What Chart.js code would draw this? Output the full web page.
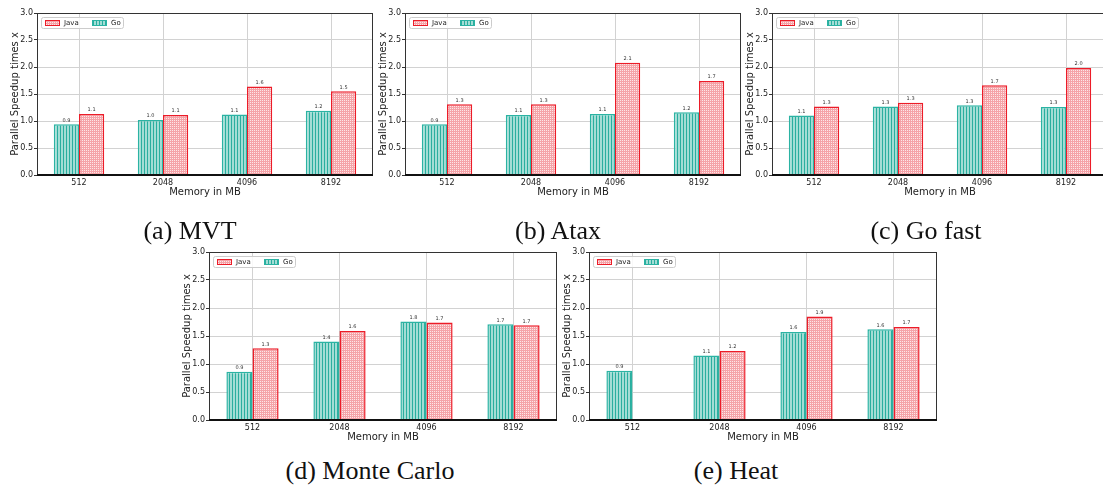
<!DOCTYPE html>
<html>
<head>
<meta charset="utf-8">
<script src="https://cdn.jsdelivr.net/npm/chart.js@4.4.1/dist/chart.umd.min.js"></script>
<style>
  html, body { margin: 0; padding: 0; background: #fff; overflow: hidden; }
  body { width: 1103px; height: 488px; position: relative; }
  canvas { position: absolute; }
  .cap { position: absolute; font-family: "Liberation Serif", serif; font-size: 26px; color: #111;
         transform: translate(-50%, -50%); white-space: nowrap; }
</style>
</head>
<body>

<script>
var memory = ['512', '2048', '4096', '8192'];

// MVT
var mvtGo   = [0.94, 1.02, 1.12, 1.19];
var mvtJava = [1.13, 1.11, 1.64, 1.55];
var mvtGoTag   = ['0.9', '1.0', '1.1', '1.2'];
var mvtJavaTag = ['1.1', '1.1', '1.6', '1.5'];
// Atax
var ataxGo   = [0.94, 1.11, 1.13, 1.16];
var ataxJava = [1.31, 1.31, 2.08, 1.74];
var ataxGoTag   = ['0.9', '1.1', '1.1', '1.2'];
var ataxJavaTag = ['1.3', '1.3', '2.1', '1.7'];
// Go fast
var fastGo   = [1.10, 1.27, 1.29, 1.26];
var fastJava = [1.27, 1.34, 1.66, 1.98];
var fastGoTag   = ['1.1', '1.3', '1.3', '1.3'];
var fastJavaTag = ['1.3', '1.3', '1.7', '2.0'];
// Monte Carlo
var monteGo   = [0.86, 1.40, 1.76, 1.71];
var monteJava = [1.28, 1.59, 1.74, 1.69];
var monteGoTag   = ['0.9', '1.4', '1.8', '1.7'];
var monteJavaTag = ['1.3', '1.6', '1.7', '1.7'];
// Heat
var heatGo   = [0.88, 1.15, 1.57, 1.62];
var heatJava = [null, 1.23, 1.85, 1.66];
var heatGoTag   = ['0.9', '1.1', '1.6', '1.6'];
var heatJavaTag = [null, '1.2', '1.9', '1.7'];

var yTicks = [0, 0.5, 1.0, 1.5, 2.0, 2.5, 3.0];

function makePattern(kind) {
	var c = document.createElement('canvas');
	var g = c.getContext('2d');
	if (kind == 'go') {
		c.width = 3; c.height = 3;
		g.fillStyle = '#a3ddd5';
		g.fillRect(0, 0, 3, 3);
		g.fillStyle = '#2aae9f';
		g.fillRect(0, 0, 1, 3);
	} else {
		c.width = 2; c.height = 2;
		g.fillStyle = '#f5a3a8';
		g.fillRect(0, 0, 2, 2);
		g.fillStyle = '#fde6e7';
		g.fillRect(0, 0, 1, 1);
	}
	return g.createPattern(c, 'repeat');
}

var decor = {
	id: 'decor',
	afterDatasetsDraw: function(chart) {
		var ctx = chart.ctx, a = chart.chartArea;
		var tags = chart.options.plugins.decor.tags;
		ctx.save();
		// numbers over the bars
		ctx.font = '5px "DejaVu Sans"';
		ctx.fillStyle = '#333';
		ctx.textAlign = 'center';
		ctx.textBaseline = 'bottom';
		chart.data.datasets.forEach(function(ds, i) {
			chart.getDatasetMeta(i).data.forEach(function(bar, j) {
				if (ds.data[j] === null || tags[i][j] === null) return;
				ctx.fillText(tags[i][j], bar.x, bar.y - 1.5);
			});
		});
		// frame
		ctx.strokeStyle = '#333';
		ctx.lineWidth = 1;
		ctx.strokeRect(a.left + 0.5, a.top + 0.5, a.right - a.left - 1, a.bottom - a.top);
		ctx.strokeStyle = '#111';
		ctx.lineWidth = 2;
		ctx.beginPath();
		ctx.moveTo(a.left, a.bottom);
		ctx.lineTo(a.right, a.bottom);
		ctx.stroke();
		// legend, Java first
		var lx = a.left + 4, ly = a.top + 4;
		ctx.lineWidth = 1;
		ctx.fillStyle = 'rgba(255,255,255,0.85)';
		ctx.strokeStyle = '#cccccc';
		ctx.beginPath();
		ctx.roundRect(lx + 0.5, ly + 0.5, 82, 11, 2);
		ctx.fill();
		ctx.stroke();
		var x = lx + 4;
		[1, 0].forEach(function(i) {
			var ds = chart.data.datasets[i];
			ctx.fillStyle = ds.backgroundColor;
			ctx.fillRect(x, ly + 3.5, 14, 5);
			ctx.strokeStyle = ds.borderColor;
			ctx.strokeRect(x + 0.5, ly + 3.5, 14, 5);
			ctx.fillStyle = '#222';
			ctx.font = '7px "DejaVu Sans"';
			ctx.textAlign = 'left';
			ctx.textBaseline = 'middle';
			ctx.fillText(ds.label, x + 19, ly + 6.5);
			x += 47;
		});
		ctx.restore();
	}
};

// plot box = where the axes frame goes, spacing = px per category
function drawChart(plotLeft, plotTop, plotBottom, spacing, go, java, goTag, javaTag) {
	var axisW = 37, axisH = 25;
	var cv = document.createElement('canvas');
	var w = axisW + spacing * 4 + 4, h = plotBottom - plotTop + 13 + axisH;
	cv.width = w; cv.height = h;
	cv.style.left = (plotLeft - axisW) + 'px';
	cv.style.top = (plotTop - 13) + 'px';
	cv.style.width = w + 'px';
	cv.style.height = h + 'px';
	document.body.appendChild(cv);

	new Chart(cv.getContext('2d'), {
		type: 'bar',
		data: {
			labels: memory,
			datasets: [{
				label: 'Go',
				data: go,
				backgroundColor: makePattern('go'),
				borderColor: '#2bb3a3',
				borderWidth: 1.5
			}, {
				label: 'Java',
				data: java,
				backgroundColor: makePattern('java'),
				borderColor: '#ec1c28',
				borderWidth: 1.5
			}]
		},
		options: {
			responsive: false,
			animation: false,
			devicePixelRatio: 1,
			categoryPercentage: 0.6,
			barPercentage: 1.0,
			layout: { padding: { left: 0, top: 13, right: 4, bottom: 0 } },
			scales: {
				x: {
					grid: { offset: false, color: '#d2d2d2', drawTicks: false },
					border: { display: false },
					ticks: { color: '#222', padding: 3, font: { family: 'DejaVu Sans', size: 8 } },
					title: { display: true, text: 'Memory in MB', color: '#222',
						padding: { top: 0, bottom: 2 }, font: { family: 'DejaVu Sans', size: 10 } },
					afterFit: function(s) { s.height = axisH; }
				},
				y: {
					min: 0, max: 3,
					grid: { color: '#d2d2d2', tickColor: '#333', tickLength: 3 },
					border: { display: false },
					afterBuildTicks: function(s) { s.ticks = yTicks.map(function(v) { return { value: v }; }); },
					ticks: { color: '#222', padding: 1, font: { family: 'DejaVu Sans', size: 8 },
						callback: function(v) { return v.toFixed(1); } },
					title: { display: true, text: 'Parallel Speedup times x', color: '#222',
						padding: { top: 9, bottom: 0 }, font: { family: 'DejaVu Sans', size: 10 } },
					afterFit: function(s) { s.width = axisW; }
				}
			},
			plugins: {
				legend: { display: false },
				tooltip: { enabled: false },
				decor: { tags: [goTag, javaTag] }
			}
		},
		plugins: [decor]
	});
}

drawChart(37, 13, 175, 84, mvtGo, mvtJava, mvtGoTag, mvtJavaTag);
drawChart(405, 13, 175, 84, ataxGo, ataxJava, ataxGoTag, ataxJavaTag);
drawChart(772, 13, 175, 84, fastGo, fastJava, fastGoTag, fastJavaTag);
drawChart(209, 252, 420, 87, monteGo, monteJava, monteGoTag, monteJavaTag);
drawChart(589, 252, 420, 87, heatGo, heatJava, heatGoTag, heatJavaTag);

var captions = [['(a) MVT', 190, 231], ['(b) Atax', 558, 231], ['(c) Go fast', 926, 231],
	['(d) Monte Carlo', 370, 471], ['(e) Heat', 736, 471]];
captions.forEach(function(c) {
	var d = document.createElement('div');
	d.className = 'cap';
	d.textContent = c[0];
	d.style.left = c[1] + 'px';
	d.style.top = c[2] + 'px';
	document.body.appendChild(d);
});
</script>
</body>
</html>
